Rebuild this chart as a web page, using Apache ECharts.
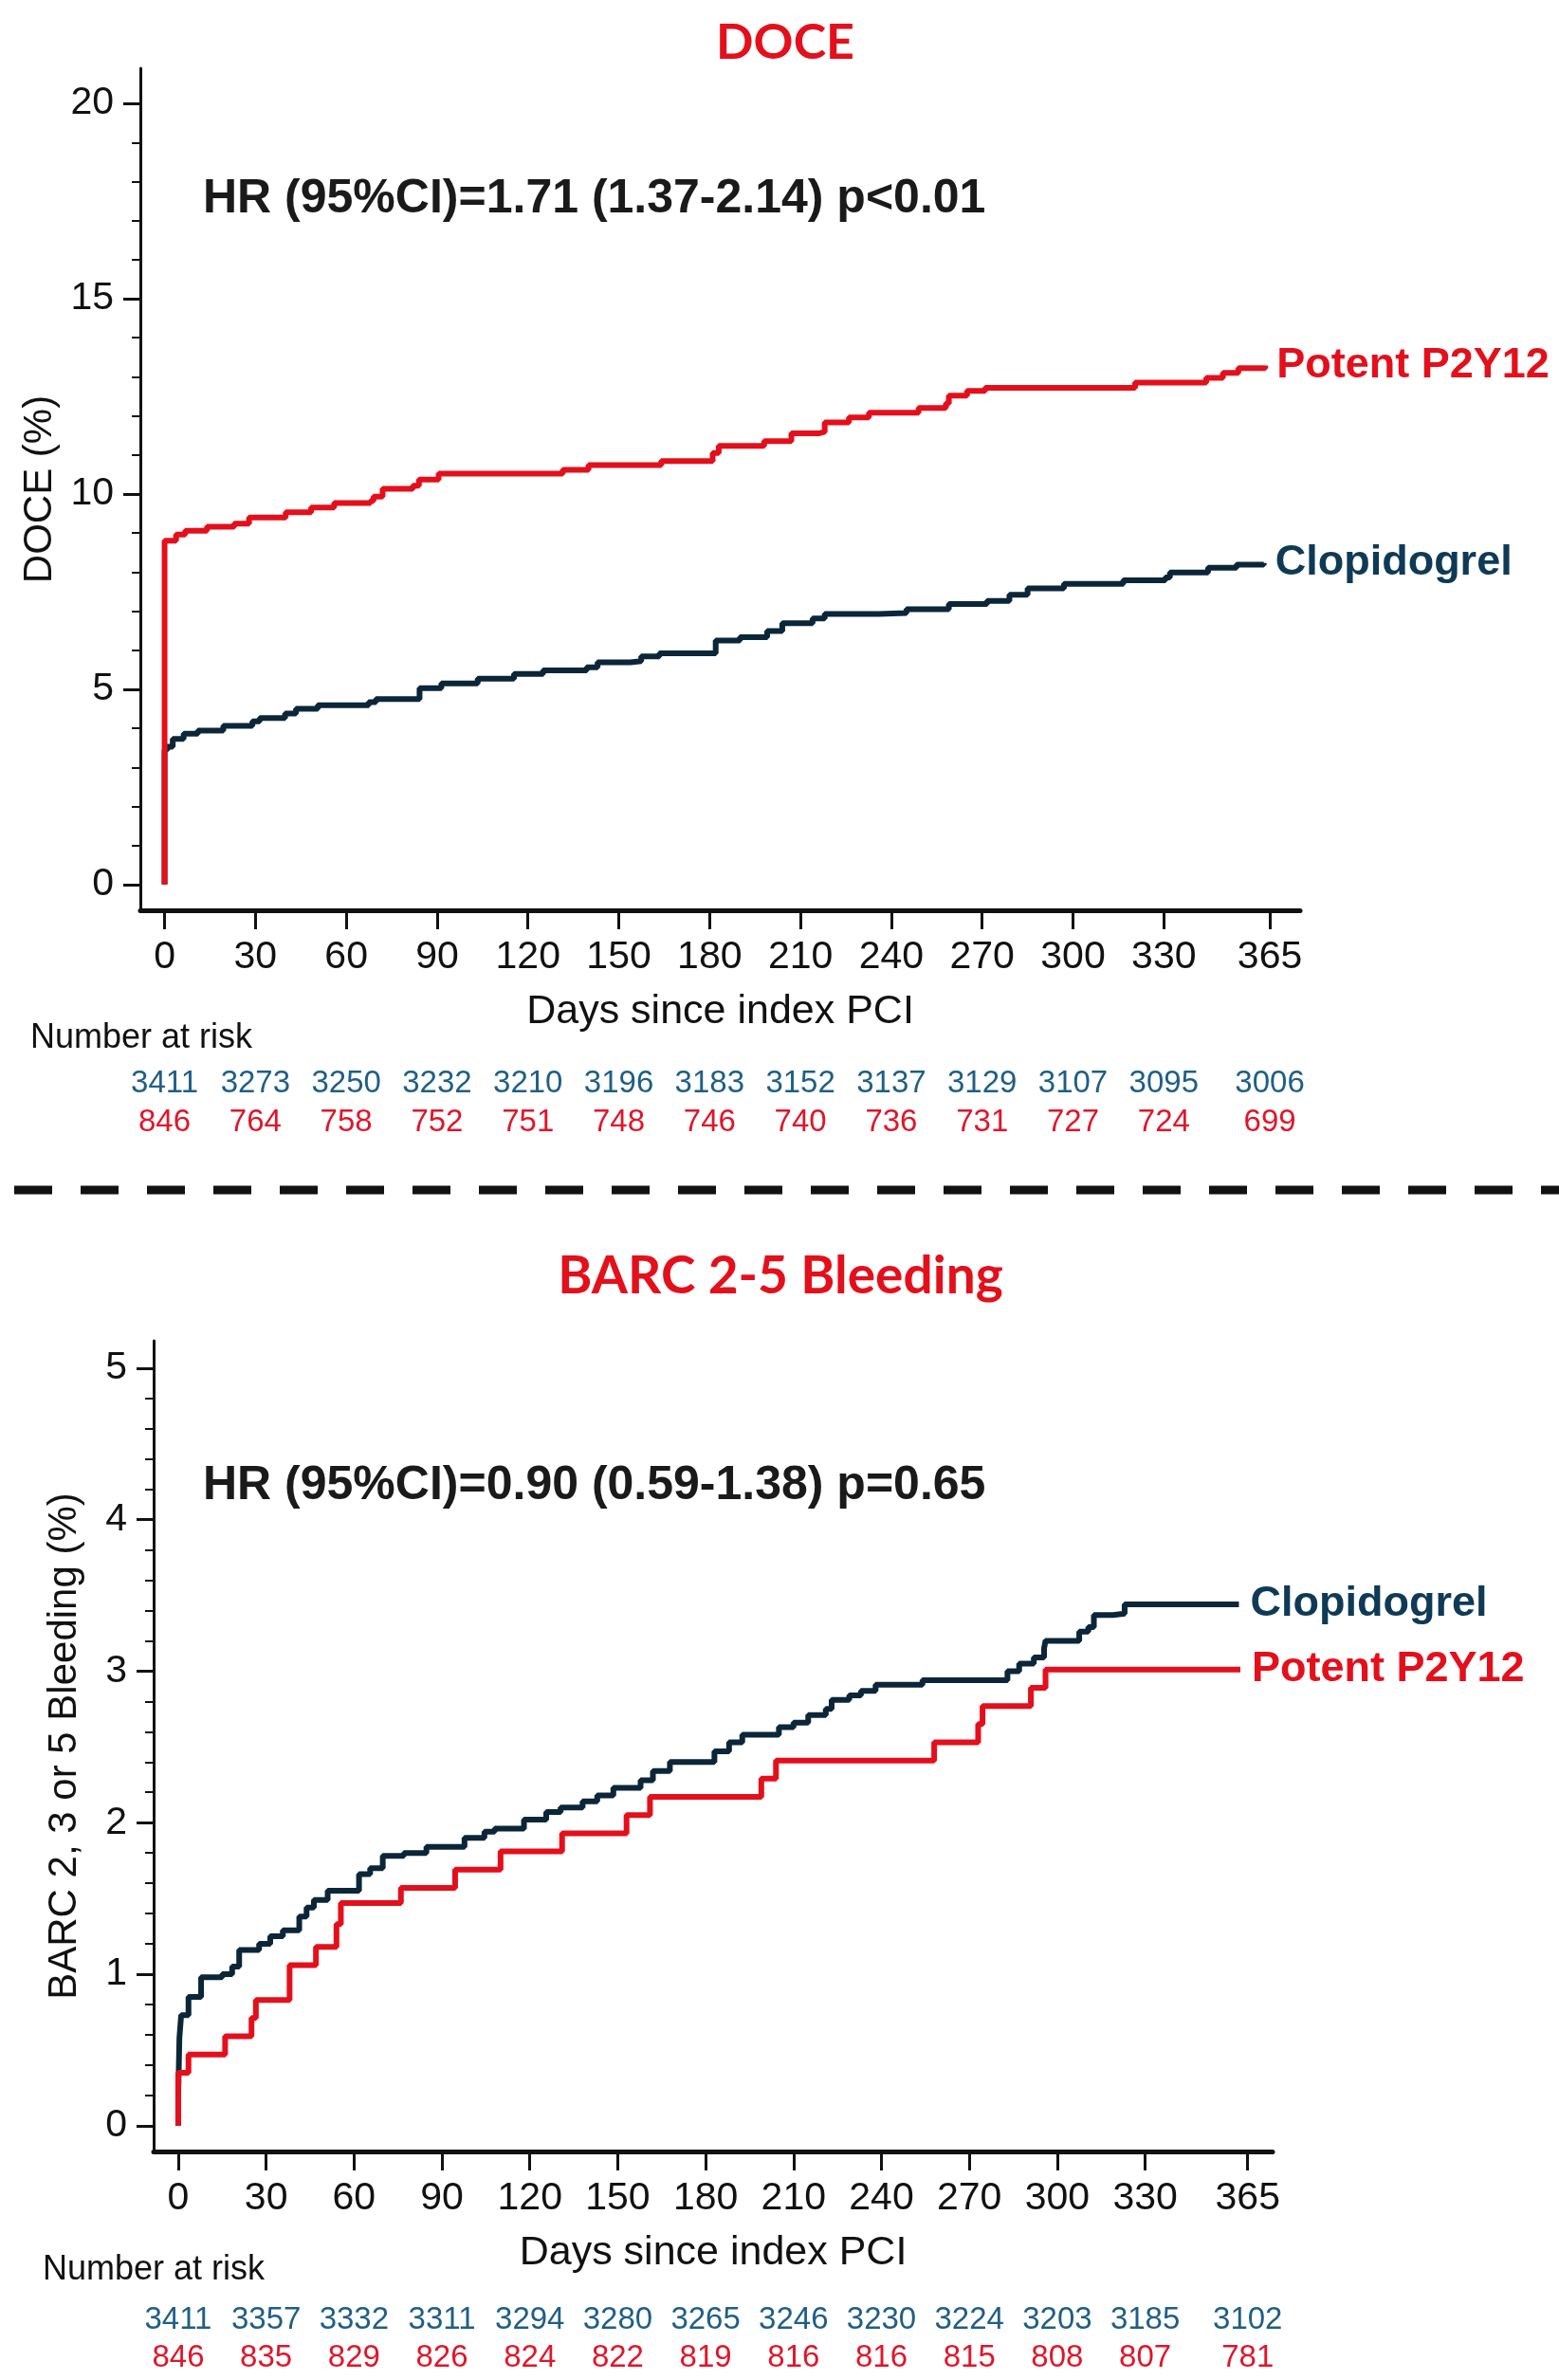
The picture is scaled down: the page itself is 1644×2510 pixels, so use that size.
<!DOCTYPE html>
<html>
<head>
<meta charset="utf-8">
<script src="https://cdn.jsdelivr.net/npm/echarts@6.0.0/dist/echarts.min.js"></script>
<style>
html,body{margin:0;padding:0;background:#fff;}
#chart{width:1644px;height:2510px;}
</style>
</head>
<body>
<div id="chart"></div>
<script>
// ---------- data ----------
const dayTicks = [0, 30, 60, 90, 120, 150, 180, 210, 240, 270, 300, 330, 365];
const doceTicks = [0, 5, 10, 15, 20];
const doceMinorTicks = [0,1,2,3,4,5,6,7,8,9,10,11,12,13,14,15,16,17,18,19,20];
const bleedTicks = [0, 1, 2, 3, 4, 5];
const bleedMinorTicks = [0,0.2,0.4,0.6,0.8,1,1.2,1.4,1.6,1.8,2,2.2,2.4,2.6,2.8,3,3.2,3.4,3.6,3.8,4,4.2,4.4,4.6,4.8,5];

// DOCE cumulative incidence (%), [day, value]
const doceClopidogrel = [[0,0],[0,3.45],[0.9,3.53],[2.7,3.73],[6.3,3.86],[11,3.94],[19.4,4.06],[29,4.18],[31.4,4.26],[39.8,4.38],[43.4,4.50],[50.6,4.59],[67.4,4.67],[69.8,4.75],[84.2,5.03],[91.4,5.15],[103.4,5.27],[115.4,5.39],[125,5.48],[139.4,5.56],[143,5.69],[153.8,5.72],[157.4,5.84],[163.4,5.92],[182,6.25],[190,6.33],[199,6.49],[204,6.69],[214,6.81],[218,6.93],[236,6.95],[245,7.05],[259,7.18],[271.6,7.26],[279,7.42],[285,7.58],[297,7.70],[316.6,7.79],[330.5,7.86],[332,7.99],[344.6,8.11],[354,8.19],[363,8.23]];
const docePotent = [[0,0],[0,8.80],[3.8,8.96],[6.8,9.06],[14,9.16],[23,9.24],[27.9,9.40],[40,9.53],[48.4,9.65],[56,9.77],[68,9.82],[69,9.93],[72,10.13],[82,10.21],[84,10.37],[90.5,10.52],[131.5,10.62],[140,10.74],[164,10.84],[181,11.05],[183,11.23],[198,11.35],[207,11.55],[216,11.59],[218,11.83],[226,11.96],[232.6,12.08],[249,12.2],[258,12.32],[259,12.52],[265,12.64],[271,12.72],[320.5,12.85],[344,12.97],[349.5,13.1],[354.6,13.22],[363.5,13.29]];

// BARC 2-5 bleeding (%), [day, value]
const bleedClopidogrel = [[0,0],[0,0.2],[0.4,0.58],[1,0.73],[3.5,0.85],[7.8,0.98],[15,1.0],[18.4,1.05],[20.8,1.16],[27.6,1.20],[31.4,1.25],[35.7,1.29],[41.3,1.38],[43.8,1.44],[46.3,1.49],[51,1.55],[61.7,1.66],[65.5,1.70],[69.8,1.78],[77,1.80],[84.7,1.84],[97.7,1.90],[104.5,1.94],[108,1.96],[118,2.02],[125.6,2.07],[130.5,2.10],[138,2.14],[143,2.18],[148.5,2.23],[157.8,2.28],[162,2.34],[167.8,2.40],[183,2.47],[188,2.53],[192.5,2.58],[205,2.63],[210,2.66],[215,2.71],[221,2.75],[223,2.81],[229,2.84],[233,2.87],[238,2.91],[254,2.94],[283,3.00],[287,3.05],[292,3.09],[295.5,3.15],[296,3.20],[307.5,3.26],[310.6,3.29],[312.5,3.37],[319,3.38],[323,3.44],[362,3.44]];
const bleedPotent = [[0,0],[0,0.35],[3.5,0.47],[16,0.59],[25,0.71],[26.5,0.83],[38,1.06],[47,1.18],[54,1.33],[55.5,1.47],[76,1.57],[94.5,1.69],[110,1.81],[131,1.93],[153,2.05],[161,2.17],[199,2.29],[204,2.41],[258,2.53],[273,2.65],[274.5,2.77],[291,2.89],[296,3.01],[362.5,3.01]];

// Number at risk
const riskDoceClopidogrel = [3411,3273,3250,3232,3210,3196,3183,3152,3137,3129,3107,3095,3006];
const riskDocePotent = [846,764,758,752,751,748,746,740,736,731,727,724,699];
const riskBleedClopidogrel = [3411,3357,3332,3311,3294,3280,3265,3246,3230,3224,3203,3185,3102];
const riskBleedPotent = [846,835,829,826,824,822,819,816,816,815,808,807,781];

// ---------- styles ----------
const FONT = '"Liberation Sans", Arial, Helvetica, sans-serif';
const TITLE_FONT = 'Lato, "Open Sans", sans-serif';
const INK = '#111111';
const RED = '#e3101c';
const NAVY_LINE = '#0b2638';
const NAVY_TEXT = '#0e3a56';
const RISK_BLUE = '#1f5f85';
const RISK_RED = '#e0162a';

function mainX(grid, min, max) {
  return {
    gridIndex: grid, type: 'value', min: min, max: max, position: 'bottom',
    axisLine: {show: true, onZero: false, lineStyle: {color: INK, width: 5}},
    axisTick: {show: true, customValues: dayTicks, length: 20, lineStyle: {color: INK, width: 3}},
    axisLabel: {show: true, customValues: dayTicks, fontSize: 41, color: INK, fontFamily: FONT, margin: 29},
    splitLine: {show: false},
    name: 'Days since index PCI', nameLocation: 'middle', nameGap: 86,
    nameTextStyle: {fontSize: 43, color: INK, fontFamily: FONT}
  };
}
function riskX(grid, min, max, offset, values, color) {
  return {
    gridIndex: grid, type: 'value', min: min, max: max, position: 'bottom', offset: offset,
    axisLine: {show: false}, axisTick: {show: false}, splitLine: {show: false},
    axisLabel: {show: true, customValues: dayTicks, fontSize: 33, color: color, fontFamily: FONT, margin: 8,
      formatter: function (v) { const i = dayTicks.indexOf(v); return i >= 0 ? String(values[i]) : ''; }}
  };
}
function mainY(grid, min, max, ticks, name, nameGap) {
  return {
    gridIndex: grid, type: 'value', min: min, max: max, position: 'left',
    axisLine: {show: true, onZero: false, lineStyle: {color: INK, width: 3}},
    axisTick: {show: true, customValues: ticks, length: 18, lineStyle: {color: INK, width: 3}},
    axisLabel: {show: true, customValues: ticks, fontSize: 41, color: INK, fontFamily: FONT, margin: 28},
    splitLine: {show: false},
    name: name, nameLocation: 'middle', nameRotate: 90, nameGap: nameGap,
    nameTextStyle: {fontSize: 42, color: INK, fontFamily: FONT}
  };
}
function minorY(grid, min, max, ticks) {
  return {
    gridIndex: grid, type: 'value', min: min, max: max, position: 'left',
    axisLine: {show: false, onZero: false},
    axisTick: {show: true, customValues: ticks, length: 9, lineStyle: {color: INK, width: 2}},
    axisLabel: {show: false}, splitLine: {show: false}
  };
}
function curve(name, data, xi, yi, lineColor, labelColor) {
  return {
    type: 'line', name: name, data: data, xAxisIndex: xi, yAxisIndex: yi,
    step: 'end', showSymbol: false, symbol: 'none', silent: true, animation: false,
    lineStyle: {color: lineColor, width: 6}, itemStyle: {color: lineColor},
    endLabel: {show: true, formatter: '{a}', color: labelColor, fontSize: 45, fontWeight: 'bold',
      fontFamily: FONT, distance: 12}
  };
}

const chart = echarts.init(document.getElementById('chart'), null, {renderer: 'canvas'});
chart.setOption({
  backgroundColor: '#ffffff',
  animation: false,
  grid: [
    {left: 148, top: 72, width: 1223, height: 888, containLabel: false, outerBoundsMode: 'none'},
    {left: 162, top: 1414, width: 1180, height: 855, containLabel: false, outerBoundsMode: 'none'}
  ],
  xAxis: [
    mainX(0, -8, 375),
    riskX(0, -8, 375, 158, riskDoceClopidogrel, RISK_BLUE),
    riskX(0, -8, 375, 199, riskDocePotent, RISK_RED),
    mainX(1, -8.4, 373.5),
    riskX(1, -8.4, 373.5, 153, riskBleedClopidogrel, RISK_BLUE),
    riskX(1, -8.4, 373.5, 193, riskBleedPotent, RISK_RED)
  ],
  yAxis: [
    mainY(0, -0.66, 20.9, doceTicks, 'DOCE (%)', 74),
    minorY(0, -0.66, 20.9, doceMinorTicks),
    mainY(1, -0.17, 5.18, bleedTicks, 'BARC 2, 3 or 5 Bleeding (%)', 73),
    minorY(1, -0.17, 5.18, bleedMinorTicks)
  ],
  series: [
    curve('Clopidogrel', doceClopidogrel, 0, 0, NAVY_LINE, NAVY_TEXT),
    curve('Potent P2Y12', docePotent, 0, 0, RED, RED),
    curve('Clopidogrel', bleedClopidogrel, 3, 2, NAVY_LINE, NAVY_TEXT),
    curve('Potent P2Y12', bleedPotent, 3, 2, RED, RED)
  ],
  graphic: [
    {type: 'text', x: 828, y: 45, style: {text: 'DOCE', fill: RED, font: 'bold 52px ' + TITLE_FONT, align: 'center', verticalAlign: 'middle'}},
    {type: 'text', x: 823, y: 1346, style: {text: 'BARC 2-5 Bleeding', fill: RED, font: 'bold 55px ' + TITLE_FONT, align: 'center', verticalAlign: 'middle'}},
    {type: 'text', x: 214, y: 210, style: {text: 'HR (95%CI)=1.71 (1.37-2.14) p<0.01', fill: '#1a1a1a', font: 'bold 50px ' + FONT, align: 'left', verticalAlign: 'middle'}},
    {type: 'text', x: 214, y: 1567, style: {text: 'HR (95%CI)=0.90 (0.59-1.38) p=0.65', fill: '#1a1a1a', font: 'bold 50px ' + FONT, align: 'left', verticalAlign: 'middle'}},
    {type: 'text', x: 32, y: 1095, style: {text: 'Number at risk', fill: INK, font: '36px ' + FONT, align: 'left', verticalAlign: 'middle'}},
    {type: 'text', x: 45, y: 2394, style: {text: 'Number at risk', fill: INK, font: '36px ' + FONT, align: 'left', verticalAlign: 'middle'}},
    {type: 'line', shape: {x1: 15, y1: 1255, x2: 1644, y2: 1255}, style: {stroke: '#111111', lineWidth: 9, lineDash: [40, 30]}}
  ]
});
</script>
</body>
</html>
